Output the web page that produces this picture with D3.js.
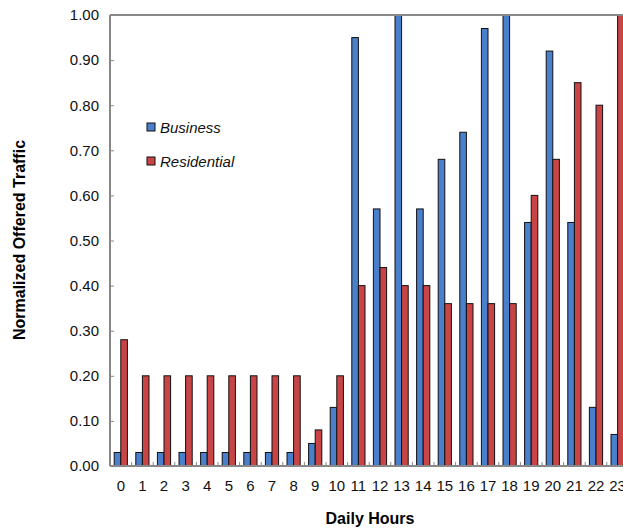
<!DOCTYPE html>
<html><head><meta charset="utf-8">
<script src="https://cdn.jsdelivr.net/npm/d3@7"></script>
<style>body{margin:0;background:#fff}text{font-family:"Liberation Sans",Arial,sans-serif}</style>
</head><body><svg id="chart" width="623" height="530"></svg>
<script>
const hours = d3.range(24).map(String);
const business = [0.03,0.03,0.03,0.03,0.03,0.03,0.03,0.03,0.03,0.05,0.13,0.95,0.57,1.00,0.57,0.68,0.74,0.97,1.00,0.54,0.92,0.54,0.13,0.07];
const residential = [0.28,0.20,0.20,0.20,0.20,0.20,0.20,0.20,0.20,0.08,0.20,0.40,0.44,0.40,0.40,0.36,0.36,0.36,0.36,0.60,0.68,0.85,0.80,1.00];
const yTicks = d3.range(0, 1.0001, 0.1);

const svg = d3.select('#chart');
const pLeft = 110, pTop = 15, pBottom = 466, pRight = 110 + 24 * 21.6;

const x = d3.scaleBand().domain(hours).range([pLeft, pRight]);
const y = d3.scaleLinear().domain([0, 1]).range([pBottom, pTop]);
const bw = 6.6;

// Bars
hours.forEach((h, i) => {
  const cx = x(h) + x.bandwidth() / 2;
  svg.append('rect').attr('x', cx - bw).attr('y', y(business[i]))
    .attr('width', bw).attr('height', pBottom - y(business[i]))
    .attr('fill', '#4a7fcb').attr('stroke', '#111').attr('stroke-width', 1);
  svg.append('rect').attr('x', cx).attr('y', y(residential[i]))
    .attr('width', bw).attr('height', pBottom - y(residential[i]))
    .attr('fill', '#c94545').attr('stroke', '#111').attr('stroke-width', 1);
});

// Frame lines
svg.append('line').attr('x1', pLeft).attr('x2', 623).attr('y1', pTop).attr('y2', pTop)
  .attr('stroke', '#888').attr('stroke-width', 2);
svg.append('line').attr('x1', pLeft).attr('x2', pLeft).attr('y1', pTop).attr('y2', pBottom)
  .attr('stroke', '#888').attr('stroke-width', 2);
svg.append('line').attr('x1', pLeft).attr('x2', 623).attr('y1', pBottom).attr('y2', pBottom)
  .attr('stroke', '#888').attr('stroke-width', 2);

// Y axis
const yAxis = svg.append('g').attr('transform', `translate(${pLeft},0)`)
  .call(d3.axisLeft(y).tickValues(yTicks).tickFormat(d3.format('.2f')).tickSize(-4));
yAxis.select('.domain').remove();
yAxis.selectAll('line').attr('stroke', '#888');
yAxis.selectAll('text').attr('font-size', 15).attr('fill', '#111').attr('x', -11);

// X category separator ticks
hours.forEach(h => {
  if (h === '0') return;
  svg.append('line').attr('x1', x(h)).attr('x2', x(h)).attr('y1', pBottom).attr('y2', pBottom - 4)
    .attr('stroke', '#888');
});
svg.selectAll('.xl').data(hours).enter().append('text')
  .attr('x', d => x(d) + x.bandwidth() / 2).attr('y', pBottom + 25)
  .attr('text-anchor', 'middle').attr('font-size', 15).attr('fill', '#111').text(d => d);

// Axis titles
svg.append('text').attr('x', 370).attr('y', 524).attr('text-anchor', 'middle')
  .attr('font-size', 16).attr('font-weight', 'bold').text('Daily Hours');
svg.append('text').attr('transform', 'translate(25,240) rotate(-90)').attr('text-anchor', 'middle')
  .attr('font-size', 16).attr('font-weight', 'bold').text('Normalized Offered Traffic');

// Legend
[['Business', '#4a7fcb', 128], ['Residential', '#c94545', 162]].forEach(([name, c, ly]) => {
  svg.append('rect').attr('x', 147).attr('y', ly - 5).attr('width', 8).attr('height', 8)
    .attr('fill', c).attr('stroke', '#111');
  svg.append('text').attr('x', 160).attr('y', ly + 5).attr('font-size', 15)
    .attr('font-style', 'italic').attr('fill', '#111').text(name);
});
</script></body></html>
